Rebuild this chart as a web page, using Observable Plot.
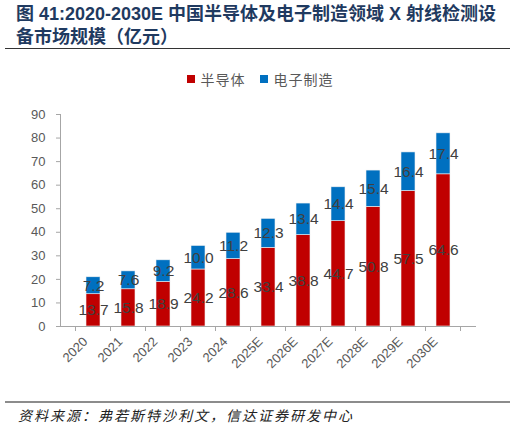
<!DOCTYPE html>
<html><head><meta charset="utf-8">
<script src="https://cdn.jsdelivr.net/npm/d3@7"></script>
<script src="https://cdn.jsdelivr.net/npm/@observablehq/plot@0.6"></script>
<style>
html,body{margin:0;padding:0;background:#fff;}
#wrap{position:relative;width:515px;height:427px;overflow:hidden;font-family:"Liberation Sans",Arial,"Noto Sans CJK SC",sans-serif;}
#title{position:absolute;left:16px;top:3px;font-size:18px;line-height:23px;font-weight:bold;color:#1f3a60;white-space:nowrap;}
#rule1{position:absolute;left:5px;top:48px;width:505px;height:0;border-top:1.5px solid #333;}
#legend{position:absolute;left:0;top:69px;width:520px;display:flex;justify-content:center;align-items:center;font-family:"Noto Sans CJK SC",sans-serif;font-size:14px;color:#595959;letter-spacing:1px;}
#legend .it{display:flex;align-items:center;margin:0 7px;}
#legend .sw{width:8px;height:8px;margin-right:6px;}
#chart{position:absolute;left:0;top:90px;}
#rule2{position:absolute;left:5px;top:401px;width:505px;height:0;border-top:2px solid #8c8c8c;}
#source{position:absolute;left:18px;top:405px;font-family:"Noto Sans CJK SC",sans-serif;font-style:italic;font-size:14px;letter-spacing:2px;color:#222;white-space:nowrap;}
</style></head>
<body>
<div id="wrap">
  <div id="title">图 41:2020-2030E 中国半导体及电子制造领域 X 射线检测设<br>备市场规模（亿元）</div>
  <div id="rule1"></div>
  <div id="legend"></div>
  <div id="chart"></div>
  <div id="rule2"></div>
  <div id="source">资料来源：弗若斯特沙利文，信达证券研发中心</div>
</div>
<script>
const years = ["2020","2021","2022","2023","2024","2025E","2026E","2027E","2028E","2029E","2030E"];
const semiconductor = [13.7,15.8,18.9,24.2,28.6,33.4,38.8,44.7,50.8,57.5,64.6];
const electronics = [7.2,7.6,9.2,10.0,11.2,12.3,13.4,14.4,15.4,16.4,17.4];
const seriesNames = ["半导体","电子制造"];
const seriesColors = ["#c00000","#0070c0"];
const yTicks = [0,10,20,30,40,50,60,70,80,90];

const data = [];
years.forEach((y,i)=>data.push({year:y, series:seriesNames[0], value:semiconductor[i]}));
years.forEach((y,i)=>data.push({year:y, series:seriesNames[1], value:electronics[i]}));

// legend
const lg = document.getElementById("legend");
seriesNames.forEach((n,i)=>{
  const it = document.createElement("div"); it.className="it";
  const sw = document.createElement("div"); sw.className="sw"; sw.style.background=seriesColors[i];
  const t = document.createElement("span"); t.textContent=n;
  it.appendChild(sw); it.appendChild(t); lg.appendChild(it);
});

const axisColor = "#a6a6a6";
function axisLines(index, scales, values, dims) {
  const g = d3.create("svg:g").attr("stroke", axisColor).attr("stroke-width", 1).attr("fill","none");
  const x = scales.x, y = scales.y;
  const y0 = y(0), yTop = y(yTicks[yTicks.length-1]);
  const left = dims.marginLeft, right = dims.width - dims.marginRight;
  g.append("line").attr("x1",left+0.5).attr("x2",left+0.5).attr("y1",y0).attr("y2",yTop);
  g.append("line").attr("x1",left).attr("x2",right).attr("y1",y0+0.5).attr("y2",y0+0.5);
  const step = x.step ? x.step() : (right-left)/years.length;
  const off = (step - x.bandwidth())/2;
  const bounds = years.map(v => x(v) - off);
  bounds.push(x(years[years.length-1]) + x.bandwidth() + off);
  bounds.forEach(b => g.append("line").attr("x1",b).attr("x2",b).attr("y1",y0).attr("y2",y0+5));
  return g.node();
}

const chart = Plot.plot({
  width: 515,
  height: 310,
  marginTop: 24,
  marginBottom: 74,
  marginLeft: 60,
  marginRight: 39,
  style: {fontFamily: '"Liberation Sans", Arial, sans-serif', background: "transparent"},
  x: {domain: years, padding: 0.6, label: null},
  y: {domain: [0, 90], label: null},
  color: {domain: seriesNames, range: seriesColors},
  marks: [
    Plot.barY(data, {x: "year", y: "value", fill: "series", z: "series", order: seriesNames, stroke: "#f2f2f2", strokeWidth: 0.6}),
    Plot.text(data, Plot.stackY({x: "year", y: "value", z: "series", order: seriesNames, text: d => d.value.toFixed(1), fill: "#404040", fontSize: 15.5})),
    Plot.axisY({ticks: yTicks, tickSize: 4, tickPadding: 11, fontSize: 13, color: "#595959", stroke: axisColor, label: null}),
    Plot.axisX({tickSize: 0, tickPadding: 13, dx: -8, tickRotate: -45, fontSize: 13, color: "#595959", label: null}),
    axisLines
  ]
});
document.getElementById("chart").appendChild(chart);
</script>
</body></html>
